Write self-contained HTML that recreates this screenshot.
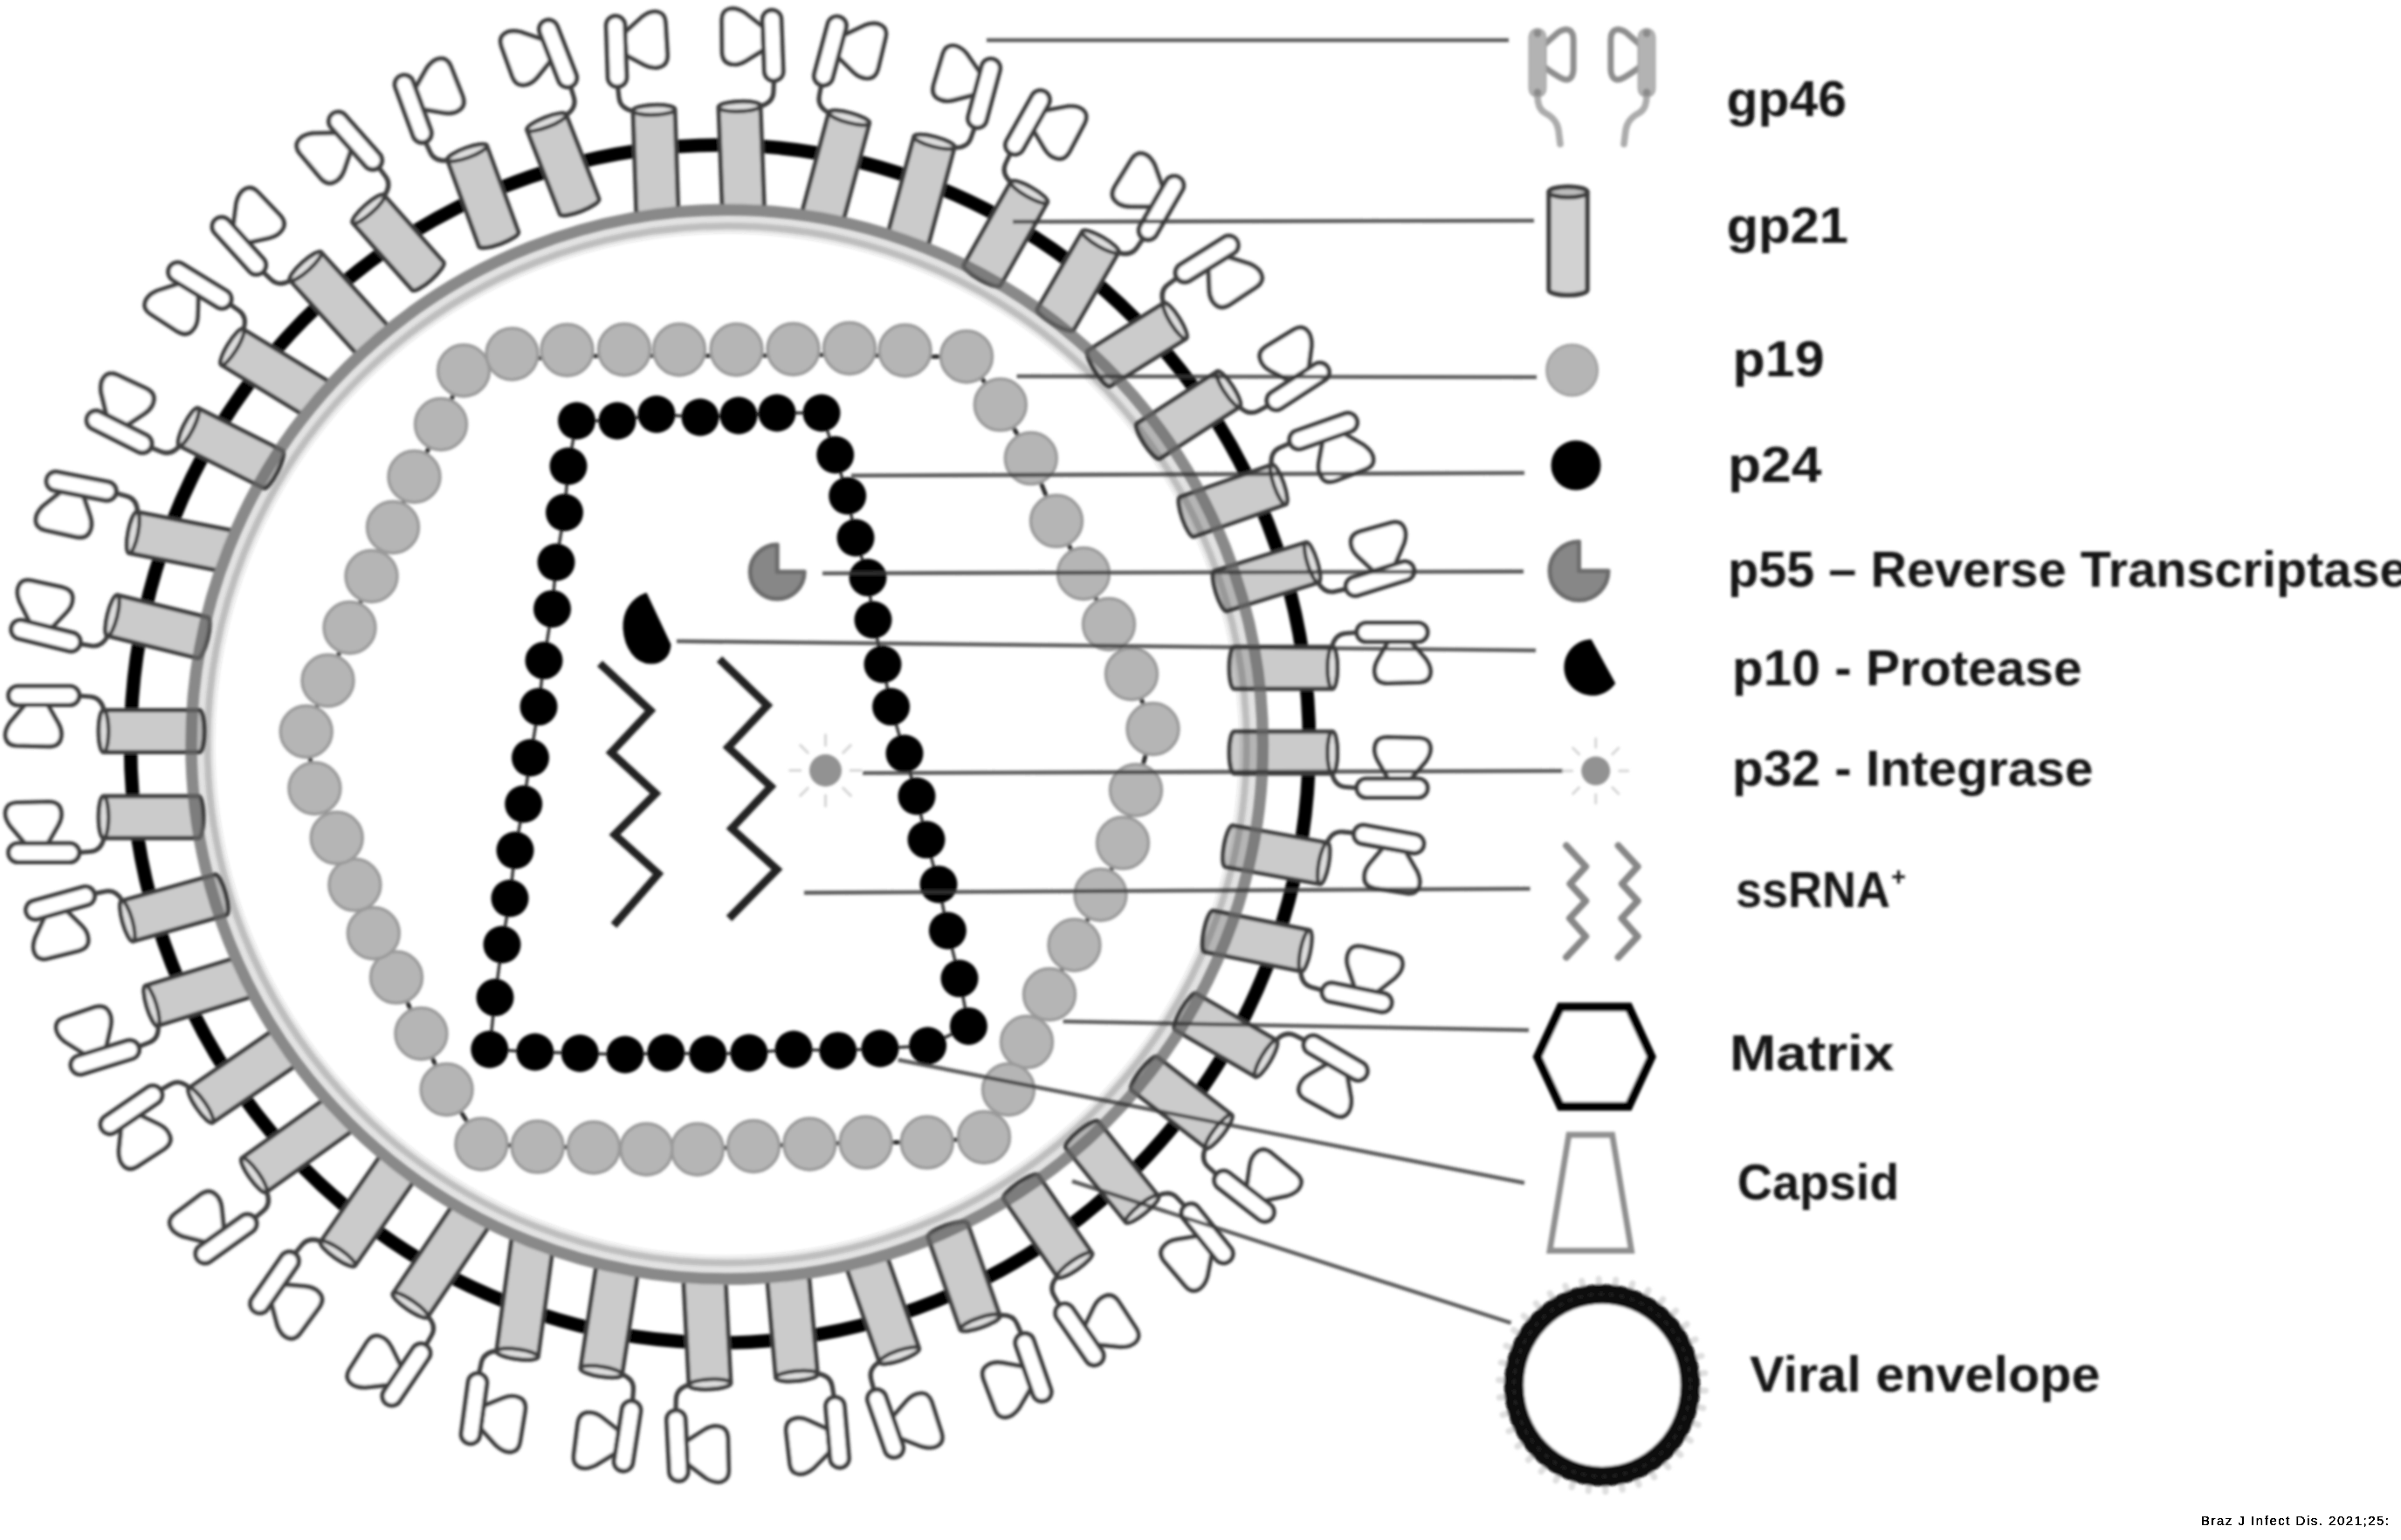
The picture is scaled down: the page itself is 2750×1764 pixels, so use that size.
<!DOCTYPE html>
<html><head><meta charset="utf-8"><title>HTLV-1 structure</title>
<style>
html,body{margin:0;padding:0;background:#fff;}
body{width:2750px;height:1764px;overflow:hidden;position:relative;font-family:"Liberation Sans",sans-serif;}
</style></head><body>
<svg width="2750" height="1764" viewBox="0 0 2750 1764" style="position:absolute;left:0;top:0">
<defs><filter id="bl" x="-2%" y="-2%" width="104%" height="104%"><feGaussianBlur stdDeviation="1.6"/></filter><filter id="crisp" x="-2%" y="-20%" width="104%" height="140%"><feComponentTransfer><feFuncA type="linear" slope="3.2" intercept="-0.3"/></feComponentTransfer></filter></defs>
<rect width="100%" height="100%" fill="#fff"/>
<g filter="url(#bl)">
<ellipse cx="824.5" cy="852" rx="675" ry="686" fill="none" stroke="#000" stroke-width="15.5"/>
<clipPath id="outside"><path clip-rule="evenodd" d="M0,0 H2750 V1764 H0 Z M212.70000000000005,852.7 a620.0,618.6999999999999 0 1,0 1240.0,0 a620.0,618.6999999999999 0 1,0 -1240.0,0 Z"/></clipPath>
<g clip-path="url(#outside)"><g transform="matrix(0.9995,-0.0328,0.0328,0.9995,749,126)"><path d="M-24.0,0 L-24.0,126.0 A24.0 5.6 0 0 0 24.0,126.0 L24.0,0 A24.0 5.6 0 0 0 -24.0,0 Z" fill="#cbcbcb" stroke="#3c3c3c" stroke-width="5" stroke-linejoin="round"/><ellipse cx="0" cy="0" rx="24.0" ry="5.6" fill="#dedede" stroke="#3c3c3c" stroke-width="4.5"/></g><g transform="matrix(0.9993,-0.0370,0.0370,0.9993,847,122)"><path d="M-24.0,0 L-24.0,125.1 A24.0 5.6 0 0 0 24.0,125.1 L24.0,0 A24.0 5.6 0 0 0 -24.0,0 Z" fill="#cbcbcb" stroke="#3c3c3c" stroke-width="5" stroke-linejoin="round"/><ellipse cx="0" cy="0" rx="24.0" ry="5.6" fill="#dedede" stroke="#3c3c3c" stroke-width="4.5"/></g><g transform="matrix(0.9658,0.2591,-0.2591,0.9658,972.5,135)"><path d="M-24.0,0 L-24.0,125.5 A24.0 5.6 0 0 0 24.0,125.5 L24.0,0 A24.0 5.6 0 0 0 -24.0,0 Z" fill="#cbcbcb" stroke="#3c3c3c" stroke-width="5" stroke-linejoin="round"/><ellipse cx="0" cy="0" rx="24.0" ry="5.6" fill="#dedede" stroke="#3c3c3c" stroke-width="4.5"/></g><g transform="matrix(0.9658,0.2591,-0.2591,0.9658,1070,162.5)"><path d="M-24.0,0 L-24.0,124.0 A24.0 5.6 0 0 0 24.0,124.0 L24.0,0 A24.0 5.6 0 0 0 -24.0,0 Z" fill="#cbcbcb" stroke="#3c3c3c" stroke-width="5" stroke-linejoin="round"/><ellipse cx="0" cy="0" rx="24.0" ry="5.6" fill="#dedede" stroke="#3c3c3c" stroke-width="4.5"/></g><g transform="matrix(-0.9442,0.3293,-0.3293,-0.9442,1030,1552.5)"><path d="M-24.0,0 L-24.0,121.2 A24.0 5.6 0 0 0 24.0,121.2 L24.0,0 A24.0 5.6 0 0 0 -24.0,0 Z" fill="#cbcbcb" stroke="#3c3c3c" stroke-width="5" stroke-linejoin="round"/><ellipse cx="0" cy="0" rx="24.0" ry="5.6" fill="#dedede" stroke="#3c3c3c" stroke-width="4.5"/></g><g transform="matrix(-0.9962,0.0868,-0.0868,-0.9962,912.5,1576)"><path d="M-24.0,0 L-24.0,121.7 A24.0 5.6 0 0 0 24.0,121.7 L24.0,0 A24.0 5.6 0 0 0 -24.0,0 Z" fill="#cbcbcb" stroke="#3c3c3c" stroke-width="5" stroke-linejoin="round"/><ellipse cx="0" cy="0" rx="24.0" ry="5.6" fill="#dedede" stroke="#3c3c3c" stroke-width="4.5"/></g><g transform="matrix(-0.9987,0.0509,-0.0509,-0.9987,813,1585.5)"><path d="M-24.0,0 L-24.0,127.5 A24.0 5.6 0 0 0 24.0,127.5 L24.0,0 A24.0 5.6 0 0 0 -24.0,0 Z" fill="#cbcbcb" stroke="#3c3c3c" stroke-width="5" stroke-linejoin="round"/><ellipse cx="0" cy="0" rx="24.0" ry="5.6" fill="#dedede" stroke="#3c3c3c" stroke-width="4.5"/></g><g transform="matrix(-0.9884,-0.1520,0.1520,-0.9884,688.7,1571)"><path d="M-24.0,0 L-24.0,126.7 A24.0 5.6 0 0 0 24.0,126.7 L24.0,0 A24.0 5.6 0 0 0 -24.0,0 Z" fill="#cbcbcb" stroke="#3c3c3c" stroke-width="5" stroke-linejoin="round"/><ellipse cx="0" cy="0" rx="24.0" ry="5.6" fill="#dedede" stroke="#3c3c3c" stroke-width="4.5"/></g><g transform="matrix(-0.9910,-0.1339,0.1339,-0.9910,592.5,1551)"><path d="M-24.0,0 L-24.0,135.3 A24.0 5.6 0 0 0 24.0,135.3 L24.0,0 A24.0 5.6 0 0 0 -24.0,0 Z" fill="#cbcbcb" stroke="#3c3c3c" stroke-width="5" stroke-linejoin="round"/><ellipse cx="0" cy="0" rx="24.0" ry="5.6" fill="#dedede" stroke="#3c3c3c" stroke-width="4.5"/></g><g transform="matrix(-0.8286,-0.5599,0.5599,-0.8286,470,1495)"><path d="M-24.0,0 L-24.0,131.8 A24.0 5.6 0 0 0 24.0,131.8 L24.0,0 A24.0 5.6 0 0 0 -24.0,0 Z" fill="#cbcbcb" stroke="#3c3c3c" stroke-width="5" stroke-linejoin="round"/><ellipse cx="0" cy="0" rx="24.0" ry="5.6" fill="#dedede" stroke="#3c3c3c" stroke-width="4.5"/></g><g transform="matrix(-0.8213,-0.5705,0.5705,-0.8213,387,1436)"><path d="M-24.0,0 L-24.0,127.7 A24.0 5.6 0 0 0 24.0,127.7 L24.0,0 A24.0 5.6 0 0 0 -24.0,0 Z" fill="#cbcbcb" stroke="#3c3c3c" stroke-width="5" stroke-linejoin="round"/><ellipse cx="0" cy="0" rx="24.0" ry="5.6" fill="#dedede" stroke="#3c3c3c" stroke-width="4.5"/></g><g transform="matrix(-0.5808,-0.8140,0.8140,-0.5808,291,1346)"><path d="M-24.0,0 L-24.0,127.0 A24.0 5.6 0 0 0 24.0,127.0 L24.0,0 A24.0 5.6 0 0 0 -24.0,0 Z" fill="#cbcbcb" stroke="#3c3c3c" stroke-width="5" stroke-linejoin="round"/><ellipse cx="0" cy="0" rx="24.0" ry="5.6" fill="#dedede" stroke="#3c3c3c" stroke-width="4.5"/></g><g transform="matrix(-0.5660,-0.8244,0.8244,-0.5660,230,1266)"><path d="M-24.0,0 L-24.0,123.9 A24.0 5.6 0 0 0 24.0,123.9 L24.0,0 A24.0 5.6 0 0 0 -24.0,0 Z" fill="#cbcbcb" stroke="#3c3c3c" stroke-width="5" stroke-linejoin="round"/><ellipse cx="0" cy="0" rx="24.0" ry="5.6" fill="#dedede" stroke="#3c3c3c" stroke-width="4.5"/></g><g transform="matrix(-0.2946,-0.9556,0.9556,-0.2946,173.7,1152)"><path d="M-24.0,0 L-24.0,117.8 A24.0 5.6 0 0 0 24.0,117.8 L24.0,0 A24.0 5.6 0 0 0 -24.0,0 Z" fill="#cbcbcb" stroke="#3c3c3c" stroke-width="5" stroke-linejoin="round"/><ellipse cx="0" cy="0" rx="24.0" ry="5.6" fill="#dedede" stroke="#3c3c3c" stroke-width="4.5"/></g><g transform="matrix(0.1915,-0.9815,0.9815,0.1915,152.5,610)"><path d="M-24.0,0 L-24.0,116.5 A24.0 5.6 0 0 0 24.0,116.5 L24.0,0 A24.0 5.6 0 0 0 -24.0,0 Z" fill="#cbcbcb" stroke="#3c3c3c" stroke-width="5" stroke-linejoin="round"/><ellipse cx="0" cy="0" rx="24.0" ry="5.6" fill="#dedede" stroke="#3c3c3c" stroke-width="4.5"/></g><g transform="matrix(0.5218,-0.8531,0.8531,0.5218,266,397.5)"><path d="M-24.0,0 L-24.0,121.2 A24.0 5.6 0 0 0 24.0,121.2 L24.0,0 A24.0 5.6 0 0 0 -24.0,0 Z" fill="#cbcbcb" stroke="#3c3c3c" stroke-width="5" stroke-linejoin="round"/><ellipse cx="0" cy="0" rx="24.0" ry="5.6" fill="#dedede" stroke="#3c3c3c" stroke-width="4.5"/></g><g transform="matrix(0.7410,-0.6715,0.6715,0.7410,350,305)"><path d="M-24.0,0 L-24.0,123.5 A24.0 5.6 0 0 0 24.0,123.5 L24.0,0 A24.0 5.6 0 0 0 -24.0,0 Z" fill="#cbcbcb" stroke="#3c3c3c" stroke-width="5" stroke-linejoin="round"/><ellipse cx="0" cy="0" rx="24.0" ry="5.6" fill="#dedede" stroke="#3c3c3c" stroke-width="4.5"/></g></g>
<g transform="matrix(0.8705,0.4921,-0.4921,0.8705,1178.7,220)"><path d="M-24.0,0 L-24.0,109.5 A24.0 5.6 0 0 0 24.0,109.5 L24.0,0 A24.0 5.6 0 0 0 -24.0,0 Z" fill="#cbcbcb" stroke="#3c3c3c" stroke-width="5" stroke-linejoin="round"/><ellipse cx="0" cy="0" rx="24.0" ry="5.6" fill="#dedede" stroke="#3c3c3c" stroke-width="4.5"/></g><g transform="matrix(0.8653,0.5013,-0.5013,0.8653,1260.4,277)"><path d="M-24.0,0 L-24.0,102.9 A24.0 5.6 0 0 0 24.0,102.9 L24.0,0 A24.0 5.6 0 0 0 -24.0,0 Z" fill="#cbcbcb" stroke="#3c3c3c" stroke-width="5" stroke-linejoin="round"/><ellipse cx="0" cy="0" rx="24.0" ry="5.6" fill="#dedede" stroke="#3c3c3c" stroke-width="4.5"/></g><g transform="matrix(0.5303,0.8478,-0.8478,0.5303,1345.8,367.5)"><path d="M-24.0,0 L-24.0,102.7 A24.0 5.6 0 0 0 24.0,102.7 L24.0,0 A24.0 5.6 0 0 0 -24.0,0 Z" fill="#cbcbcb" stroke="#3c3c3c" stroke-width="5" stroke-linejoin="round"/><ellipse cx="0" cy="0" rx="24.0" ry="5.6" fill="#dedede" stroke="#3c3c3c" stroke-width="4.5"/></g><g transform="matrix(0.5443,0.8389,-0.8389,0.5443,1407,445.7)"><path d="M-24.0,0 L-24.0,109.4 A24.0 5.6 0 0 0 24.0,109.4 L24.0,0 A24.0 5.6 0 0 0 -24.0,0 Z" fill="#cbcbcb" stroke="#3c3c3c" stroke-width="5" stroke-linejoin="round"/><ellipse cx="0" cy="0" rx="24.0" ry="5.6" fill="#dedede" stroke="#3c3c3c" stroke-width="4.5"/></g><g transform="matrix(0.3318,0.9433,-0.9433,0.3318,1464.6,555)"><path d="M-24.0,0 L-24.0,111.4 A24.0 5.6 0 0 0 24.0,111.4 L24.0,0 A24.0 5.6 0 0 0 -24.0,0 Z" fill="#cbcbcb" stroke="#3c3c3c" stroke-width="5" stroke-linejoin="round"/><ellipse cx="0" cy="0" rx="24.0" ry="5.6" fill="#dedede" stroke="#3c3c3c" stroke-width="4.5"/></g><g transform="matrix(0.2976,0.9547,-0.9547,0.2976,1503,644.3)"><path d="M-24.0,0 L-24.0,110.0 A24.0 5.6 0 0 0 24.0,110.0 L24.0,0 A24.0 5.6 0 0 0 -24.0,0 Z" fill="#cbcbcb" stroke="#3c3c3c" stroke-width="5" stroke-linejoin="round"/><ellipse cx="0" cy="0" rx="24.0" ry="5.6" fill="#dedede" stroke="#3c3c3c" stroke-width="4.5"/></g><g transform="matrix(-0.0000,1.0000,-1.0000,-0.0000,1526,765)"><path d="M-24.0,0 L-24.0,112.4 A24.0 5.6 0 0 0 24.0,112.4 L24.0,0 A24.0 5.6 0 0 0 -24.0,0 Z" fill="#cbcbcb" stroke="#3c3c3c" stroke-width="5" stroke-linejoin="round"/><ellipse cx="0" cy="0" rx="24.0" ry="5.6" fill="#dedede" stroke="#3c3c3c" stroke-width="4.5"/></g><g transform="matrix(-0.0000,1.0000,-1.0000,-0.0000,1526,862)"><path d="M-24.0,0 L-24.0,112.4 A24.0 5.6 0 0 0 24.0,112.4 L24.0,0 A24.0 5.6 0 0 0 -24.0,0 Z" fill="#cbcbcb" stroke="#3c3c3c" stroke-width="5" stroke-linejoin="round"/><ellipse cx="0" cy="0" rx="24.0" ry="5.6" fill="#dedede" stroke="#3c3c3c" stroke-width="4.5"/></g><g transform="matrix(-0.1792,0.9838,-0.9838,-0.1792,1516,989)"><path d="M-24.0,0 L-24.0,110.2 A24.0 5.6 0 0 0 24.0,110.2 L24.0,0 A24.0 5.6 0 0 0 -24.0,0 Z" fill="#cbcbcb" stroke="#3c3c3c" stroke-width="5" stroke-linejoin="round"/><ellipse cx="0" cy="0" rx="24.0" ry="5.6" fill="#dedede" stroke="#3c3c3c" stroke-width="4.5"/></g><g transform="matrix(-0.1978,0.9802,-0.9802,-0.1978,1495,1089)"><path d="M-24.0,0 L-24.0,112.7 A24.0 5.6 0 0 0 24.0,112.7 L24.0,0 A24.0 5.6 0 0 0 -24.0,0 Z" fill="#cbcbcb" stroke="#3c3c3c" stroke-width="5" stroke-linejoin="round"/><ellipse cx="0" cy="0" rx="24.0" ry="5.6" fill="#dedede" stroke="#3c3c3c" stroke-width="4.5"/></g><g transform="matrix(-0.5039,0.8638,-0.8638,-0.5039,1450,1212.5)"><path d="M-24.0,0 L-24.0,106.6 A24.0 5.6 0 0 0 24.0,106.6 L24.0,0 A24.0 5.6 0 0 0 -24.0,0 Z" fill="#cbcbcb" stroke="#3c3c3c" stroke-width="5" stroke-linejoin="round"/><ellipse cx="0" cy="0" rx="24.0" ry="5.6" fill="#dedede" stroke="#3c3c3c" stroke-width="4.5"/></g><g transform="matrix(-0.6143,0.7891,-0.7891,-0.6143,1396,1296)"><path d="M-24.0,0 L-24.0,108.2 A24.0 5.6 0 0 0 24.0,108.2 L24.0,0 A24.0 5.6 0 0 0 -24.0,0 Z" fill="#cbcbcb" stroke="#3c3c3c" stroke-width="5" stroke-linejoin="round"/><ellipse cx="0" cy="0" rx="24.0" ry="5.6" fill="#dedede" stroke="#3c3c3c" stroke-width="4.5"/></g><g transform="matrix(-0.7791,0.6269,-0.6269,-0.7791,1308,1385)"><path d="M-24.0,0 L-24.0,109.5 A24.0 5.6 0 0 0 24.0,109.5 L24.0,0 A24.0 5.6 0 0 0 -24.0,0 Z" fill="#cbcbcb" stroke="#3c3c3c" stroke-width="5" stroke-linejoin="round"/><ellipse cx="0" cy="0" rx="24.0" ry="5.6" fill="#dedede" stroke="#3c3c3c" stroke-width="4.5"/></g><g transform="matrix(-0.8227,0.5685,-0.5685,-0.8227,1231,1449)"><path d="M-24.0,0 L-24.0,108.6 A24.0 5.6 0 0 0 24.0,108.6 L24.0,0 A24.0 5.6 0 0 0 -24.0,0 Z" fill="#cbcbcb" stroke="#3c3c3c" stroke-width="5" stroke-linejoin="round"/><ellipse cx="0" cy="0" rx="24.0" ry="5.6" fill="#dedede" stroke="#3c3c3c" stroke-width="4.5"/></g><g transform="matrix(-0.9442,0.3294,-0.3294,-0.9442,1122.5,1515)"><path d="M-24.0,0 L-24.0,112.3 A24.0 5.6 0 0 0 24.0,112.3 L24.0,0 A24.0 5.6 0 0 0 -24.0,0 Z" fill="#cbcbcb" stroke="#3c3c3c" stroke-width="5" stroke-linejoin="round"/><ellipse cx="0" cy="0" rx="24.0" ry="5.6" fill="#dedede" stroke="#3c3c3c" stroke-width="4.5"/></g><g transform="matrix(-0.2711,-0.9625,0.9625,-0.2711,146,1055)"><path d="M-24.0,0 L-24.0,111.0 A24.0 5.6 0 0 0 24.0,111.0 L24.0,0 A24.0 5.6 0 0 0 -24.0,0 Z" fill="#cbcbcb" stroke="#3c3c3c" stroke-width="5" stroke-linejoin="round"/><ellipse cx="0" cy="0" rx="24.0" ry="5.6" fill="#dedede" stroke="#3c3c3c" stroke-width="4.5"/></g><g transform="matrix(-0.0000,-1.0000,1.0000,-0.0000,118.7,936)"><path d="M-24.0,0 L-24.0,108.7 A24.0 5.6 0 0 0 24.0,108.7 L24.0,0 A24.0 5.6 0 0 0 -24.0,0 Z" fill="#cbcbcb" stroke="#3c3c3c" stroke-width="5" stroke-linejoin="round"/><ellipse cx="0" cy="0" rx="24.0" ry="5.6" fill="#dedede" stroke="#3c3c3c" stroke-width="4.5"/></g><g transform="matrix(-0.0000,-1.0000,1.0000,-0.0000,118.7,837.5)"><path d="M-24.0,0 L-24.0,109.7 A24.0 5.6 0 0 0 24.0,109.7 L24.0,0 A24.0 5.6 0 0 0 -24.0,0 Z" fill="#cbcbcb" stroke="#3c3c3c" stroke-width="5" stroke-linejoin="round"/><ellipse cx="0" cy="0" rx="24.0" ry="5.6" fill="#dedede" stroke="#3c3c3c" stroke-width="4.5"/></g><g transform="matrix(0.2396,-0.9709,0.9709,0.2396,128.7,705)"><path d="M-24.0,0 L-24.0,106.7 A24.0 5.6 0 0 0 24.0,106.7 L24.0,0 A24.0 5.6 0 0 0 -24.0,0 Z" fill="#cbcbcb" stroke="#3c3c3c" stroke-width="5" stroke-linejoin="round"/><ellipse cx="0" cy="0" rx="24.0" ry="5.6" fill="#dedede" stroke="#3c3c3c" stroke-width="4.5"/></g><g transform="matrix(0.4491,-0.8935,0.8935,0.4491,216,489)"><path d="M-24.0,0 L-24.0,108.4 A24.0 5.6 0 0 0 24.0,108.4 L24.0,0 A24.0 5.6 0 0 0 -24.0,0 Z" fill="#cbcbcb" stroke="#3c3c3c" stroke-width="5" stroke-linejoin="round"/><ellipse cx="0" cy="0" rx="24.0" ry="5.6" fill="#dedede" stroke="#3c3c3c" stroke-width="4.5"/></g><g transform="matrix(0.7482,-0.6635,0.6635,0.7482,422,239.5)"><path d="M-24.0,0 L-24.0,102.7 A24.0 5.6 0 0 0 24.0,102.7 L24.0,0 A24.0 5.6 0 0 0 -24.0,0 Z" fill="#cbcbcb" stroke="#3c3c3c" stroke-width="5" stroke-linejoin="round"/><ellipse cx="0" cy="0" rx="24.0" ry="5.6" fill="#dedede" stroke="#3c3c3c" stroke-width="4.5"/></g><g transform="matrix(0.9391,-0.3436,0.3436,0.9391,535,175)"><path d="M-24.0,0 L-24.0,105.5 A24.0 5.6 0 0 0 24.0,105.5 L24.0,0 A24.0 5.6 0 0 0 -24.0,0 Z" fill="#cbcbcb" stroke="#3c3c3c" stroke-width="5" stroke-linejoin="round"/><ellipse cx="0" cy="0" rx="24.0" ry="5.6" fill="#dedede" stroke="#3c3c3c" stroke-width="4.5"/></g><g transform="matrix(0.9317,-0.3633,0.3633,0.9317,626,140)"><path d="M-24.0,0 L-24.0,103.7 A24.0 5.6 0 0 0 24.0,103.7 L24.0,0 A24.0 5.6 0 0 0 -24.0,0 Z" fill="#cbcbcb" stroke="#3c3c3c" stroke-width="5" stroke-linejoin="round"/><ellipse cx="0" cy="0" rx="24.0" ry="5.6" fill="#dedede" stroke="#3c3c3c" stroke-width="4.5"/></g>
<ellipse cx="832.7" cy="852.7" rx="613.7" ry="612.4" fill="none" stroke="#646464" stroke-width="13.5" opacity="0.76"/>
<ellipse cx="832.7" cy="852.7" rx="602.8000000000001" ry="601.5" fill="none" stroke="#333" stroke-width="8.3" opacity="0.14"/>
<ellipse cx="832.7" cy="852.7" rx="595.1" ry="593.8" fill="none" stroke="#333" stroke-width="7.6" opacity="0.32"/>
<ellipse cx="832.7" cy="852.7" rx="589.1" ry="587.8" fill="none" stroke="#333" stroke-width="4.6" opacity="0.11"/>
<g transform="matrix(0.9995,-0.0328,0.0328,0.9995,749,126)"><g transform="" fill="#fff" stroke="#3c3c3c" stroke-width="5.2" stroke-linejoin="round" stroke-linecap="round"><path d="M-40.5,-28 L-39.5,-15 Q-38.5,-3 -24,0.5" fill="none"/><path d="M-30,-90 L-10,-107 Q0,-114 8,-112 Q16,-110 16.5,-100 L17.5,-63 Q17.5,-51 8,-49 Q0,-47 -9,-52 L-30,-64 Z"/><rect x="-51.5" y="-109" width="21.5" height="81" rx="10.7" ry="10.7"/></g></g>
<g transform="matrix(0.9993,-0.0370,0.0370,0.9993,847,122)"><g transform="scale(-1,1)" fill="#fff" stroke="#3c3c3c" stroke-width="5.2" stroke-linejoin="round" stroke-linecap="round"><path d="M-40.5,-28 L-39.5,-15 Q-38.5,-3 -24,0.5" fill="none"/><path d="M-30,-90 L-10,-107 Q0,-114 8,-112 Q16,-110 16.5,-100 L17.5,-63 Q17.5,-51 8,-49 Q0,-47 -9,-52 L-30,-64 Z"/><rect x="-51.5" y="-109" width="21.5" height="81" rx="10.7" ry="10.7"/></g></g>
<g transform="matrix(0.9658,0.2591,-0.2591,0.9658,972.5,135)"><g transform="" fill="#fff" stroke="#3c3c3c" stroke-width="5.2" stroke-linejoin="round" stroke-linecap="round"><path d="M-40.5,-28 L-39.5,-15 Q-38.5,-3 -24,0.5" fill="none"/><path d="M-30,-90 L-10,-107 Q0,-114 8,-112 Q16,-110 16.5,-100 L17.5,-63 Q17.5,-51 8,-49 Q0,-47 -9,-52 L-30,-64 Z"/><rect x="-51.5" y="-109" width="21.5" height="81" rx="10.7" ry="10.7"/></g></g>
<g transform="matrix(0.9658,0.2591,-0.2591,0.9658,1070,162.5)"><g transform="scale(-1,1)" fill="#fff" stroke="#3c3c3c" stroke-width="5.2" stroke-linejoin="round" stroke-linecap="round"><path d="M-40.5,-28 L-39.5,-15 Q-38.5,-3 -24,0.5" fill="none"/><path d="M-30,-90 L-10,-107 Q0,-114 8,-112 Q16,-110 16.5,-100 L17.5,-63 Q17.5,-51 8,-49 Q0,-47 -9,-52 L-30,-64 Z"/><rect x="-51.5" y="-109" width="21.5" height="81" rx="10.7" ry="10.7"/></g></g>
<g transform="matrix(0.8705,0.4921,-0.4921,0.8705,1178.7,220)"><g transform="" fill="#fff" stroke="#3c3c3c" stroke-width="5.2" stroke-linejoin="round" stroke-linecap="round"><path d="M-40.5,-28 L-39.5,-15 Q-38.5,-3 -24,0.5" fill="none"/><path d="M-30,-90 L-10,-107 Q0,-114 8,-112 Q16,-110 16.5,-100 L17.5,-63 Q17.5,-51 8,-49 Q0,-47 -9,-52 L-30,-64 Z"/><rect x="-51.5" y="-109" width="21.5" height="81" rx="10.7" ry="10.7"/></g></g>
<g transform="matrix(0.8653,0.5013,-0.5013,0.8653,1260.4,277)"><g transform="scale(-1,1)" fill="#fff" stroke="#3c3c3c" stroke-width="5.2" stroke-linejoin="round" stroke-linecap="round"><path d="M-40.5,-28 L-39.5,-15 Q-38.5,-3 -24,0.5" fill="none"/><path d="M-30,-90 L-10,-107 Q0,-114 8,-112 Q16,-110 16.5,-100 L17.5,-63 Q17.5,-51 8,-49 Q0,-47 -9,-52 L-30,-64 Z"/><rect x="-51.5" y="-109" width="21.5" height="81" rx="10.7" ry="10.7"/></g></g>
<g transform="matrix(0.5303,0.8478,-0.8478,0.5303,1345.8,367.5)"><g transform="" fill="#fff" stroke="#3c3c3c" stroke-width="5.2" stroke-linejoin="round" stroke-linecap="round"><path d="M-40.5,-28 L-39.5,-15 Q-38.5,-3 -24,0.5" fill="none"/><path d="M-30,-90 L-10,-107 Q0,-114 8,-112 Q16,-110 16.5,-100 L17.5,-63 Q17.5,-51 8,-49 Q0,-47 -9,-52 L-30,-64 Z"/><rect x="-51.5" y="-109" width="21.5" height="81" rx="10.7" ry="10.7"/></g></g>
<g transform="matrix(0.5443,0.8389,-0.8389,0.5443,1407,445.7)"><g transform="scale(-1,1)" fill="#fff" stroke="#3c3c3c" stroke-width="5.2" stroke-linejoin="round" stroke-linecap="round"><path d="M-40.5,-28 L-39.5,-15 Q-38.5,-3 -24,0.5" fill="none"/><path d="M-30,-90 L-10,-107 Q0,-114 8,-112 Q16,-110 16.5,-100 L17.5,-63 Q17.5,-51 8,-49 Q0,-47 -9,-52 L-30,-64 Z"/><rect x="-51.5" y="-109" width="21.5" height="81" rx="10.7" ry="10.7"/></g></g>
<g transform="matrix(0.3318,0.9433,-0.9433,0.3318,1464.6,555)"><g transform="" fill="#fff" stroke="#3c3c3c" stroke-width="5.2" stroke-linejoin="round" stroke-linecap="round"><path d="M-40.5,-28 L-39.5,-15 Q-38.5,-3 -24,0.5" fill="none"/><path d="M-30,-90 L-10,-107 Q0,-114 8,-112 Q16,-110 16.5,-100 L17.5,-63 Q17.5,-51 8,-49 Q0,-47 -9,-52 L-30,-64 Z"/><rect x="-51.5" y="-109" width="21.5" height="81" rx="10.7" ry="10.7"/></g></g>
<g transform="matrix(0.2976,0.9547,-0.9547,0.2976,1503,644.3)"><g transform="scale(-1,1)" fill="#fff" stroke="#3c3c3c" stroke-width="5.2" stroke-linejoin="round" stroke-linecap="round"><path d="M-40.5,-28 L-39.5,-15 Q-38.5,-3 -24,0.5" fill="none"/><path d="M-30,-90 L-10,-107 Q0,-114 8,-112 Q16,-110 16.5,-100 L17.5,-63 Q17.5,-51 8,-49 Q0,-47 -9,-52 L-30,-64 Z"/><rect x="-51.5" y="-109" width="21.5" height="81" rx="10.7" ry="10.7"/></g></g>
<g transform="matrix(-0.0000,1.0000,-1.0000,-0.0000,1526,765)"><g transform="" fill="#fff" stroke="#3c3c3c" stroke-width="5.2" stroke-linejoin="round" stroke-linecap="round"><path d="M-40.5,-28 L-39.5,-15 Q-38.5,-3 -24,0.5" fill="none"/><path d="M-30,-90 L-10,-107 Q0,-114 8,-112 Q16,-110 16.5,-100 L17.5,-63 Q17.5,-51 8,-49 Q0,-47 -9,-52 L-30,-64 Z"/><rect x="-51.5" y="-109" width="21.5" height="81" rx="10.7" ry="10.7"/></g></g>
<g transform="matrix(-0.0000,1.0000,-1.0000,-0.0000,1526,862)"><g transform="scale(-1,1)" fill="#fff" stroke="#3c3c3c" stroke-width="5.2" stroke-linejoin="round" stroke-linecap="round"><path d="M-40.5,-28 L-39.5,-15 Q-38.5,-3 -24,0.5" fill="none"/><path d="M-30,-90 L-10,-107 Q0,-114 8,-112 Q16,-110 16.5,-100 L17.5,-63 Q17.5,-51 8,-49 Q0,-47 -9,-52 L-30,-64 Z"/><rect x="-51.5" y="-109" width="21.5" height="81" rx="10.7" ry="10.7"/></g></g>
<g transform="matrix(-0.1792,0.9838,-0.9838,-0.1792,1516,989)"><g transform="" fill="#fff" stroke="#3c3c3c" stroke-width="5.2" stroke-linejoin="round" stroke-linecap="round"><path d="M-40.5,-28 L-39.5,-15 Q-38.5,-3 -24,0.5" fill="none"/><path d="M-30,-90 L-10,-107 Q0,-114 8,-112 Q16,-110 16.5,-100 L17.5,-63 Q17.5,-51 8,-49 Q0,-47 -9,-52 L-30,-64 Z"/><rect x="-51.5" y="-109" width="21.5" height="81" rx="10.7" ry="10.7"/></g></g>
<g transform="matrix(-0.1978,0.9802,-0.9802,-0.1978,1495,1089)"><g transform="scale(-1,1)" fill="#fff" stroke="#3c3c3c" stroke-width="5.2" stroke-linejoin="round" stroke-linecap="round"><path d="M-40.5,-28 L-39.5,-15 Q-38.5,-3 -24,0.5" fill="none"/><path d="M-30,-90 L-10,-107 Q0,-114 8,-112 Q16,-110 16.5,-100 L17.5,-63 Q17.5,-51 8,-49 Q0,-47 -9,-52 L-30,-64 Z"/><rect x="-51.5" y="-109" width="21.5" height="81" rx="10.7" ry="10.7"/></g></g>
<g transform="matrix(-0.5039,0.8638,-0.8638,-0.5039,1450,1212.5)"><g transform="" fill="#fff" stroke="#3c3c3c" stroke-width="5.2" stroke-linejoin="round" stroke-linecap="round"><path d="M-40.5,-28 L-39.5,-15 Q-38.5,-3 -24,0.5" fill="none"/><path d="M-30,-90 L-10,-107 Q0,-114 8,-112 Q16,-110 16.5,-100 L17.5,-63 Q17.5,-51 8,-49 Q0,-47 -9,-52 L-30,-64 Z"/><rect x="-51.5" y="-109" width="21.5" height="81" rx="10.7" ry="10.7"/></g></g>
<g transform="matrix(-0.6143,0.7891,-0.7891,-0.6143,1396,1296)"><g transform="scale(-1,1)" fill="#fff" stroke="#3c3c3c" stroke-width="5.2" stroke-linejoin="round" stroke-linecap="round"><path d="M-40.5,-28 L-39.5,-15 Q-38.5,-3 -24,0.5" fill="none"/><path d="M-30,-90 L-10,-107 Q0,-114 8,-112 Q16,-110 16.5,-100 L17.5,-63 Q17.5,-51 8,-49 Q0,-47 -9,-52 L-30,-64 Z"/><rect x="-51.5" y="-109" width="21.5" height="81" rx="10.7" ry="10.7"/></g></g>
<g transform="matrix(-0.7791,0.6269,-0.6269,-0.7791,1308,1385)"><g transform="" fill="#fff" stroke="#3c3c3c" stroke-width="5.2" stroke-linejoin="round" stroke-linecap="round"><path d="M-40.5,-28 L-39.5,-15 Q-38.5,-3 -24,0.5" fill="none"/><path d="M-30,-90 L-10,-107 Q0,-114 8,-112 Q16,-110 16.5,-100 L17.5,-63 Q17.5,-51 8,-49 Q0,-47 -9,-52 L-30,-64 Z"/><rect x="-51.5" y="-109" width="21.5" height="81" rx="10.7" ry="10.7"/></g></g>
<g transform="matrix(-0.8227,0.5685,-0.5685,-0.8227,1231,1449)"><g transform="scale(-1,1)" fill="#fff" stroke="#3c3c3c" stroke-width="5.2" stroke-linejoin="round" stroke-linecap="round"><path d="M-40.5,-28 L-39.5,-15 Q-38.5,-3 -24,0.5" fill="none"/><path d="M-30,-90 L-10,-107 Q0,-114 8,-112 Q16,-110 16.5,-100 L17.5,-63 Q17.5,-51 8,-49 Q0,-47 -9,-52 L-30,-64 Z"/><rect x="-51.5" y="-109" width="21.5" height="81" rx="10.7" ry="10.7"/></g></g>
<g transform="matrix(-0.9442,0.3294,-0.3294,-0.9442,1122.5,1515)"><g transform="" fill="#fff" stroke="#3c3c3c" stroke-width="5.2" stroke-linejoin="round" stroke-linecap="round"><path d="M-40.5,-28 L-39.5,-15 Q-38.5,-3 -24,0.5" fill="none"/><path d="M-30,-90 L-10,-107 Q0,-114 8,-112 Q16,-110 16.5,-100 L17.5,-63 Q17.5,-51 8,-49 Q0,-47 -9,-52 L-30,-64 Z"/><rect x="-51.5" y="-109" width="21.5" height="81" rx="10.7" ry="10.7"/></g></g>
<g transform="matrix(-0.9442,0.3293,-0.3293,-0.9442,1030,1552.5)"><g transform="scale(-1,1)" fill="#fff" stroke="#3c3c3c" stroke-width="5.2" stroke-linejoin="round" stroke-linecap="round"><path d="M-40.5,-28 L-39.5,-15 Q-38.5,-3 -24,0.5" fill="none"/><path d="M-30,-90 L-10,-107 Q0,-114 8,-112 Q16,-110 16.5,-100 L17.5,-63 Q17.5,-51 8,-49 Q0,-47 -9,-52 L-30,-64 Z"/><rect x="-51.5" y="-109" width="21.5" height="81" rx="10.7" ry="10.7"/></g></g>
<g transform="matrix(-0.9962,0.0868,-0.0868,-0.9962,912.5,1576)"><g transform="" fill="#fff" stroke="#3c3c3c" stroke-width="5.2" stroke-linejoin="round" stroke-linecap="round"><path d="M-40.5,-28 L-39.5,-15 Q-38.5,-3 -24,0.5" fill="none"/><path d="M-30,-90 L-10,-107 Q0,-114 8,-112 Q16,-110 16.5,-100 L17.5,-63 Q17.5,-51 8,-49 Q0,-47 -9,-52 L-30,-64 Z"/><rect x="-51.5" y="-109" width="21.5" height="81" rx="10.7" ry="10.7"/></g></g>
<g transform="matrix(-0.9987,0.0509,-0.0509,-0.9987,813,1585.5)"><g transform="scale(-1,1)" fill="#fff" stroke="#3c3c3c" stroke-width="5.2" stroke-linejoin="round" stroke-linecap="round"><path d="M-40.5,-28 L-39.5,-15 Q-38.5,-3 -24,0.5" fill="none"/><path d="M-30,-90 L-10,-107 Q0,-114 8,-112 Q16,-110 16.5,-100 L17.5,-63 Q17.5,-51 8,-49 Q0,-47 -9,-52 L-30,-64 Z"/><rect x="-51.5" y="-109" width="21.5" height="81" rx="10.7" ry="10.7"/></g></g>
<g transform="matrix(-0.9884,-0.1520,0.1520,-0.9884,688.7,1571)"><g transform="" fill="#fff" stroke="#3c3c3c" stroke-width="5.2" stroke-linejoin="round" stroke-linecap="round"><path d="M-40.5,-28 L-39.5,-15 Q-38.5,-3 -24,0.5" fill="none"/><path d="M-30,-90 L-10,-107 Q0,-114 8,-112 Q16,-110 16.5,-100 L17.5,-63 Q17.5,-51 8,-49 Q0,-47 -9,-52 L-30,-64 Z"/><rect x="-51.5" y="-109" width="21.5" height="81" rx="10.7" ry="10.7"/></g></g>
<g transform="matrix(-0.9910,-0.1339,0.1339,-0.9910,592.5,1551)"><g transform="scale(-1,1)" fill="#fff" stroke="#3c3c3c" stroke-width="5.2" stroke-linejoin="round" stroke-linecap="round"><path d="M-40.5,-28 L-39.5,-15 Q-38.5,-3 -24,0.5" fill="none"/><path d="M-30,-90 L-10,-107 Q0,-114 8,-112 Q16,-110 16.5,-100 L17.5,-63 Q17.5,-51 8,-49 Q0,-47 -9,-52 L-30,-64 Z"/><rect x="-51.5" y="-109" width="21.5" height="81" rx="10.7" ry="10.7"/></g></g>
<g transform="matrix(-0.8286,-0.5599,0.5599,-0.8286,470,1495)"><g transform="" fill="#fff" stroke="#3c3c3c" stroke-width="5.2" stroke-linejoin="round" stroke-linecap="round"><path d="M-40.5,-28 L-39.5,-15 Q-38.5,-3 -24,0.5" fill="none"/><path d="M-30,-90 L-10,-107 Q0,-114 8,-112 Q16,-110 16.5,-100 L17.5,-63 Q17.5,-51 8,-49 Q0,-47 -9,-52 L-30,-64 Z"/><rect x="-51.5" y="-109" width="21.5" height="81" rx="10.7" ry="10.7"/></g></g>
<g transform="matrix(-0.8213,-0.5705,0.5705,-0.8213,387,1436)"><g transform="scale(-1,1)" fill="#fff" stroke="#3c3c3c" stroke-width="5.2" stroke-linejoin="round" stroke-linecap="round"><path d="M-40.5,-28 L-39.5,-15 Q-38.5,-3 -24,0.5" fill="none"/><path d="M-30,-90 L-10,-107 Q0,-114 8,-112 Q16,-110 16.5,-100 L17.5,-63 Q17.5,-51 8,-49 Q0,-47 -9,-52 L-30,-64 Z"/><rect x="-51.5" y="-109" width="21.5" height="81" rx="10.7" ry="10.7"/></g></g>
<g transform="matrix(-0.5808,-0.8140,0.8140,-0.5808,291,1346)"><g transform="" fill="#fff" stroke="#3c3c3c" stroke-width="5.2" stroke-linejoin="round" stroke-linecap="round"><path d="M-40.5,-28 L-39.5,-15 Q-38.5,-3 -24,0.5" fill="none"/><path d="M-30,-90 L-10,-107 Q0,-114 8,-112 Q16,-110 16.5,-100 L17.5,-63 Q17.5,-51 8,-49 Q0,-47 -9,-52 L-30,-64 Z"/><rect x="-51.5" y="-109" width="21.5" height="81" rx="10.7" ry="10.7"/></g></g>
<g transform="matrix(-0.5660,-0.8244,0.8244,-0.5660,230,1266)"><g transform="scale(-1,1)" fill="#fff" stroke="#3c3c3c" stroke-width="5.2" stroke-linejoin="round" stroke-linecap="round"><path d="M-40.5,-28 L-39.5,-15 Q-38.5,-3 -24,0.5" fill="none"/><path d="M-30,-90 L-10,-107 Q0,-114 8,-112 Q16,-110 16.5,-100 L17.5,-63 Q17.5,-51 8,-49 Q0,-47 -9,-52 L-30,-64 Z"/><rect x="-51.5" y="-109" width="21.5" height="81" rx="10.7" ry="10.7"/></g></g>
<g transform="matrix(-0.2946,-0.9556,0.9556,-0.2946,173.7,1152)"><g transform="" fill="#fff" stroke="#3c3c3c" stroke-width="5.2" stroke-linejoin="round" stroke-linecap="round"><path d="M-40.5,-28 L-39.5,-15 Q-38.5,-3 -24,0.5" fill="none"/><path d="M-30,-90 L-10,-107 Q0,-114 8,-112 Q16,-110 16.5,-100 L17.5,-63 Q17.5,-51 8,-49 Q0,-47 -9,-52 L-30,-64 Z"/><rect x="-51.5" y="-109" width="21.5" height="81" rx="10.7" ry="10.7"/></g></g>
<g transform="matrix(-0.2711,-0.9625,0.9625,-0.2711,146,1055)"><g transform="scale(-1,1)" fill="#fff" stroke="#3c3c3c" stroke-width="5.2" stroke-linejoin="round" stroke-linecap="round"><path d="M-40.5,-28 L-39.5,-15 Q-38.5,-3 -24,0.5" fill="none"/><path d="M-30,-90 L-10,-107 Q0,-114 8,-112 Q16,-110 16.5,-100 L17.5,-63 Q17.5,-51 8,-49 Q0,-47 -9,-52 L-30,-64 Z"/><rect x="-51.5" y="-109" width="21.5" height="81" rx="10.7" ry="10.7"/></g></g>
<g transform="matrix(-0.0000,-1.0000,1.0000,-0.0000,118.7,936)"><g transform="" fill="#fff" stroke="#3c3c3c" stroke-width="5.2" stroke-linejoin="round" stroke-linecap="round"><path d="M-40.5,-28 L-39.5,-15 Q-38.5,-3 -24,0.5" fill="none"/><path d="M-30,-90 L-10,-107 Q0,-114 8,-112 Q16,-110 16.5,-100 L17.5,-63 Q17.5,-51 8,-49 Q0,-47 -9,-52 L-30,-64 Z"/><rect x="-51.5" y="-109" width="21.5" height="81" rx="10.7" ry="10.7"/></g></g>
<g transform="matrix(-0.0000,-1.0000,1.0000,-0.0000,118.7,837.5)"><g transform="scale(-1,1)" fill="#fff" stroke="#3c3c3c" stroke-width="5.2" stroke-linejoin="round" stroke-linecap="round"><path d="M-40.5,-28 L-39.5,-15 Q-38.5,-3 -24,0.5" fill="none"/><path d="M-30,-90 L-10,-107 Q0,-114 8,-112 Q16,-110 16.5,-100 L17.5,-63 Q17.5,-51 8,-49 Q0,-47 -9,-52 L-30,-64 Z"/><rect x="-51.5" y="-109" width="21.5" height="81" rx="10.7" ry="10.7"/></g></g>
<g transform="matrix(0.2396,-0.9709,0.9709,0.2396,128.7,705)"><g transform="" fill="#fff" stroke="#3c3c3c" stroke-width="5.2" stroke-linejoin="round" stroke-linecap="round"><path d="M-40.5,-28 L-39.5,-15 Q-38.5,-3 -24,0.5" fill="none"/><path d="M-30,-90 L-10,-107 Q0,-114 8,-112 Q16,-110 16.5,-100 L17.5,-63 Q17.5,-51 8,-49 Q0,-47 -9,-52 L-30,-64 Z"/><rect x="-51.5" y="-109" width="21.5" height="81" rx="10.7" ry="10.7"/></g></g>
<g transform="matrix(0.1915,-0.9815,0.9815,0.1915,152.5,610)"><g transform="scale(-1,1)" fill="#fff" stroke="#3c3c3c" stroke-width="5.2" stroke-linejoin="round" stroke-linecap="round"><path d="M-40.5,-28 L-39.5,-15 Q-38.5,-3 -24,0.5" fill="none"/><path d="M-30,-90 L-10,-107 Q0,-114 8,-112 Q16,-110 16.5,-100 L17.5,-63 Q17.5,-51 8,-49 Q0,-47 -9,-52 L-30,-64 Z"/><rect x="-51.5" y="-109" width="21.5" height="81" rx="10.7" ry="10.7"/></g></g>
<g transform="matrix(0.4491,-0.8935,0.8935,0.4491,216,489)"><g transform="" fill="#fff" stroke="#3c3c3c" stroke-width="5.2" stroke-linejoin="round" stroke-linecap="round"><path d="M-40.5,-28 L-39.5,-15 Q-38.5,-3 -24,0.5" fill="none"/><path d="M-30,-90 L-10,-107 Q0,-114 8,-112 Q16,-110 16.5,-100 L17.5,-63 Q17.5,-51 8,-49 Q0,-47 -9,-52 L-30,-64 Z"/><rect x="-51.5" y="-109" width="21.5" height="81" rx="10.7" ry="10.7"/></g></g>
<g transform="matrix(0.5218,-0.8531,0.8531,0.5218,266,397.5)"><g transform="scale(-1,1)" fill="#fff" stroke="#3c3c3c" stroke-width="5.2" stroke-linejoin="round" stroke-linecap="round"><path d="M-40.5,-28 L-39.5,-15 Q-38.5,-3 -24,0.5" fill="none"/><path d="M-30,-90 L-10,-107 Q0,-114 8,-112 Q16,-110 16.5,-100 L17.5,-63 Q17.5,-51 8,-49 Q0,-47 -9,-52 L-30,-64 Z"/><rect x="-51.5" y="-109" width="21.5" height="81" rx="10.7" ry="10.7"/></g></g>
<g transform="matrix(0.7410,-0.6715,0.6715,0.7410,350,305)"><g transform="" fill="#fff" stroke="#3c3c3c" stroke-width="5.2" stroke-linejoin="round" stroke-linecap="round"><path d="M-40.5,-28 L-39.5,-15 Q-38.5,-3 -24,0.5" fill="none"/><path d="M-30,-90 L-10,-107 Q0,-114 8,-112 Q16,-110 16.5,-100 L17.5,-63 Q17.5,-51 8,-49 Q0,-47 -9,-52 L-30,-64 Z"/><rect x="-51.5" y="-109" width="21.5" height="81" rx="10.7" ry="10.7"/></g></g>
<g transform="matrix(0.7482,-0.6635,0.6635,0.7482,422,239.5)"><g transform="scale(-1,1)" fill="#fff" stroke="#3c3c3c" stroke-width="5.2" stroke-linejoin="round" stroke-linecap="round"><path d="M-40.5,-28 L-39.5,-15 Q-38.5,-3 -24,0.5" fill="none"/><path d="M-30,-90 L-10,-107 Q0,-114 8,-112 Q16,-110 16.5,-100 L17.5,-63 Q17.5,-51 8,-49 Q0,-47 -9,-52 L-30,-64 Z"/><rect x="-51.5" y="-109" width="21.5" height="81" rx="10.7" ry="10.7"/></g></g>
<g transform="matrix(0.9391,-0.3436,0.3436,0.9391,535,175)"><g transform="" fill="#fff" stroke="#3c3c3c" stroke-width="5.2" stroke-linejoin="round" stroke-linecap="round"><path d="M-40.5,-28 L-39.5,-15 Q-38.5,-3 -24,0.5" fill="none"/><path d="M-30,-90 L-10,-107 Q0,-114 8,-112 Q16,-110 16.5,-100 L17.5,-63 Q17.5,-51 8,-49 Q0,-47 -9,-52 L-30,-64 Z"/><rect x="-51.5" y="-109" width="21.5" height="81" rx="10.7" ry="10.7"/></g></g>
<g transform="matrix(0.9317,-0.3633,0.3633,0.9317,626,140)"><g transform="scale(-1,1)" fill="#fff" stroke="#3c3c3c" stroke-width="5.2" stroke-linejoin="round" stroke-linecap="round"><path d="M-40.5,-28 L-39.5,-15 Q-38.5,-3 -24,0.5" fill="none"/><path d="M-30,-90 L-10,-107 Q0,-114 8,-112 Q16,-110 16.5,-100 L17.5,-63 Q17.5,-51 8,-49 Q0,-47 -9,-52 L-30,-64 Z"/><rect x="-51.5" y="-109" width="21.5" height="81" rx="10.7" ry="10.7"/></g></g>
<polygon points="531,424.5 586.5,412.5 649.5,408 715,407.5 778,407.5 843.5,407.5 908.5,407 973,406 1036.6,408.5 1107,408.4 1145.8,463.6 1180.8,525 1210,596.8 1241,657 1270,715 1296,772 1320.5,835 1301,905 1286,965.6 1260.5,1025 1230.5,1082.5 1202,1139 1176,1193.6 1155,1248 1127,1302.7 1061.7,1308.6 991.6,1308.6 927.3,1310.5 863,1313 798.8,1316.4 740.4,1316.4 680,1314.4 615.7,1313.6 551.4,1310.5 511.6,1248 482.4,1184 454,1119.6 427.8,1069 406.4,1013.6 385.7,959.8 360.4,903 350.7,838 375.5,779.5 400.5,719 425.5,660 450,604 474.5,546 505,486" fill="none" stroke="#2a2a2a" stroke-width="5" stroke-linejoin="round"/>
<circle cx="531" cy="424.5" r="29.5" fill="#b5b5b5" stroke="#9a9a9a" stroke-width="3.5"/>
<circle cx="586.5" cy="405.5" r="29.5" fill="#b5b5b5" stroke="#9a9a9a" stroke-width="3.5"/>
<circle cx="649.5" cy="401" r="29.5" fill="#b5b5b5" stroke="#9a9a9a" stroke-width="3.5"/>
<circle cx="715" cy="400.5" r="29.5" fill="#b5b5b5" stroke="#9a9a9a" stroke-width="3.5"/>
<circle cx="778" cy="400.5" r="29.5" fill="#b5b5b5" stroke="#9a9a9a" stroke-width="3.5"/>
<circle cx="843.5" cy="400.5" r="29.5" fill="#b5b5b5" stroke="#9a9a9a" stroke-width="3.5"/>
<circle cx="908.5" cy="400" r="29.5" fill="#b5b5b5" stroke="#9a9a9a" stroke-width="3.5"/>
<circle cx="973" cy="399" r="29.5" fill="#b5b5b5" stroke="#9a9a9a" stroke-width="3.5"/>
<circle cx="1036.6" cy="401.5" r="29.5" fill="#b5b5b5" stroke="#9a9a9a" stroke-width="3.5"/>
<circle cx="1107" cy="408.4" r="29.5" fill="#b5b5b5" stroke="#9a9a9a" stroke-width="3.5"/>
<circle cx="1145.8" cy="463.6" r="29.5" fill="#b5b5b5" stroke="#9a9a9a" stroke-width="3.5"/>
<circle cx="1180.8" cy="525" r="29.5" fill="#b5b5b5" stroke="#9a9a9a" stroke-width="3.5"/>
<circle cx="1210" cy="596.8" r="29.5" fill="#b5b5b5" stroke="#9a9a9a" stroke-width="3.5"/>
<circle cx="1241" cy="657" r="29.5" fill="#b5b5b5" stroke="#9a9a9a" stroke-width="3.5"/>
<circle cx="1270" cy="715" r="29.5" fill="#b5b5b5" stroke="#9a9a9a" stroke-width="3.5"/>
<circle cx="1296" cy="772" r="29.5" fill="#b5b5b5" stroke="#9a9a9a" stroke-width="3.5"/>
<circle cx="1320.5" cy="835" r="29.5" fill="#b5b5b5" stroke="#9a9a9a" stroke-width="3.5"/>
<circle cx="1301" cy="905" r="29.5" fill="#b5b5b5" stroke="#9a9a9a" stroke-width="3.5"/>
<circle cx="1286" cy="965.6" r="29.5" fill="#b5b5b5" stroke="#9a9a9a" stroke-width="3.5"/>
<circle cx="1260.5" cy="1025" r="29.5" fill="#b5b5b5" stroke="#9a9a9a" stroke-width="3.5"/>
<circle cx="1230.5" cy="1082.5" r="29.5" fill="#b5b5b5" stroke="#9a9a9a" stroke-width="3.5"/>
<circle cx="1202" cy="1139" r="29.5" fill="#b5b5b5" stroke="#9a9a9a" stroke-width="3.5"/>
<circle cx="1176" cy="1193.6" r="29.5" fill="#b5b5b5" stroke="#9a9a9a" stroke-width="3.5"/>
<circle cx="1155" cy="1248" r="29.5" fill="#b5b5b5" stroke="#9a9a9a" stroke-width="3.5"/>
<circle cx="1127" cy="1302.7" r="29.5" fill="#b5b5b5" stroke="#9a9a9a" stroke-width="3.5"/>
<circle cx="1061.7" cy="1308.6" r="29.5" fill="#b5b5b5" stroke="#9a9a9a" stroke-width="3.5"/>
<circle cx="991.6" cy="1308.6" r="29.5" fill="#b5b5b5" stroke="#9a9a9a" stroke-width="3.5"/>
<circle cx="927.3" cy="1310.5" r="29.5" fill="#b5b5b5" stroke="#9a9a9a" stroke-width="3.5"/>
<circle cx="863" cy="1313" r="29.5" fill="#b5b5b5" stroke="#9a9a9a" stroke-width="3.5"/>
<circle cx="798.8" cy="1316.4" r="29.5" fill="#b5b5b5" stroke="#9a9a9a" stroke-width="3.5"/>
<circle cx="740.4" cy="1316.4" r="29.5" fill="#b5b5b5" stroke="#9a9a9a" stroke-width="3.5"/>
<circle cx="680" cy="1314.4" r="29.5" fill="#b5b5b5" stroke="#9a9a9a" stroke-width="3.5"/>
<circle cx="615.7" cy="1313.6" r="29.5" fill="#b5b5b5" stroke="#9a9a9a" stroke-width="3.5"/>
<circle cx="551.4" cy="1310.5" r="29.5" fill="#b5b5b5" stroke="#9a9a9a" stroke-width="3.5"/>
<circle cx="511.6" cy="1248" r="29.5" fill="#b5b5b5" stroke="#9a9a9a" stroke-width="3.5"/>
<circle cx="482.4" cy="1184" r="29.5" fill="#b5b5b5" stroke="#9a9a9a" stroke-width="3.5"/>
<circle cx="454" cy="1119.6" r="29.5" fill="#b5b5b5" stroke="#9a9a9a" stroke-width="3.5"/>
<circle cx="427.8" cy="1069" r="29.5" fill="#b5b5b5" stroke="#9a9a9a" stroke-width="3.5"/>
<circle cx="406.4" cy="1013.6" r="29.5" fill="#b5b5b5" stroke="#9a9a9a" stroke-width="3.5"/>
<circle cx="385.7" cy="959.8" r="29.5" fill="#b5b5b5" stroke="#9a9a9a" stroke-width="3.5"/>
<circle cx="360.4" cy="903" r="29.5" fill="#b5b5b5" stroke="#9a9a9a" stroke-width="3.5"/>
<circle cx="350.7" cy="838" r="29.5" fill="#b5b5b5" stroke="#9a9a9a" stroke-width="3.5"/>
<circle cx="375.5" cy="779.5" r="29.5" fill="#b5b5b5" stroke="#9a9a9a" stroke-width="3.5"/>
<circle cx="400.5" cy="719" r="29.5" fill="#b5b5b5" stroke="#9a9a9a" stroke-width="3.5"/>
<circle cx="425.5" cy="660" r="29.5" fill="#b5b5b5" stroke="#9a9a9a" stroke-width="3.5"/>
<circle cx="450" cy="604" r="29.5" fill="#b5b5b5" stroke="#9a9a9a" stroke-width="3.5"/>
<circle cx="474.5" cy="546" r="29.5" fill="#b5b5b5" stroke="#9a9a9a" stroke-width="3.5"/>
<circle cx="505" cy="486" r="29.5" fill="#b5b5b5" stroke="#9a9a9a" stroke-width="3.5"/>
<polygon points="660.5,482 707,482 752,474.5 802,478 846,476 890,473 941,473 956.7,521 970.7,568 980,616 994,661.6 1000,710 1011,761 1020.6,809.6 1036,863 1050,912 1061,961.8 1075,1013 1085.4,1066 1099,1120.8 1109.4,1175.4 1062.6,1197.8 1008,1201 959.8,1203.4 909,1202 857.9,1206 810.8,1207.5 762.8,1206 716,1208 664.3,1206.5 612.8,1205 560.8,1202 567,1142.6 575,1082 584,1029 590,974 599.7,921 607.5,868 617,809.6 623,756.6 632.5,697.4 637,644 646.5,587 651,534" fill="none" stroke="#333" stroke-width="3.5" stroke-linejoin="round"/>
<circle cx="660.5" cy="482" r="21.5" fill="#000"/>
<circle cx="707" cy="482" r="21.5" fill="#000"/>
<circle cx="752" cy="474.5" r="21.5" fill="#000"/>
<circle cx="802" cy="478" r="21.5" fill="#000"/>
<circle cx="846" cy="476" r="21.5" fill="#000"/>
<circle cx="890" cy="473" r="21.5" fill="#000"/>
<circle cx="941" cy="473" r="21.5" fill="#000"/>
<circle cx="956.7" cy="521" r="21.5" fill="#000"/>
<circle cx="970.7" cy="568" r="21.5" fill="#000"/>
<circle cx="980" cy="616" r="21.5" fill="#000"/>
<circle cx="994" cy="661.6" r="21.5" fill="#000"/>
<circle cx="1000" cy="710" r="21.5" fill="#000"/>
<circle cx="1011" cy="761" r="21.5" fill="#000"/>
<circle cx="1020.6" cy="809.6" r="21.5" fill="#000"/>
<circle cx="1036" cy="863" r="21.5" fill="#000"/>
<circle cx="1050" cy="912" r="21.5" fill="#000"/>
<circle cx="1061" cy="961.8" r="21.5" fill="#000"/>
<circle cx="1075" cy="1013" r="21.5" fill="#000"/>
<circle cx="1085.4" cy="1066" r="21.5" fill="#000"/>
<circle cx="1099" cy="1120.8" r="21.5" fill="#000"/>
<circle cx="1109.4" cy="1175.4" r="21.5" fill="#000"/>
<circle cx="1062.6" cy="1197.8" r="21.5" fill="#000"/>
<circle cx="1008" cy="1201" r="21.5" fill="#000"/>
<circle cx="959.8" cy="1203.4" r="21.5" fill="#000"/>
<circle cx="909" cy="1202" r="21.5" fill="#000"/>
<circle cx="857.9" cy="1206" r="21.5" fill="#000"/>
<circle cx="810.8" cy="1207.5" r="21.5" fill="#000"/>
<circle cx="762.8" cy="1206" r="21.5" fill="#000"/>
<circle cx="716" cy="1208" r="21.5" fill="#000"/>
<circle cx="664.3" cy="1206.5" r="21.5" fill="#000"/>
<circle cx="612.8" cy="1205" r="21.5" fill="#000"/>
<circle cx="560.8" cy="1202" r="21.5" fill="#000"/>
<circle cx="567" cy="1142.6" r="21.5" fill="#000"/>
<circle cx="575" cy="1082" r="21.5" fill="#000"/>
<circle cx="584" cy="1029" r="21.5" fill="#000"/>
<circle cx="590" cy="974" r="21.5" fill="#000"/>
<circle cx="599.7" cy="921" r="21.5" fill="#000"/>
<circle cx="607.5" cy="868" r="21.5" fill="#000"/>
<circle cx="617" cy="809.6" r="21.5" fill="#000"/>
<circle cx="623" cy="756.6" r="21.5" fill="#000"/>
<circle cx="632.5" cy="697.4" r="21.5" fill="#000"/>
<circle cx="637" cy="644" r="21.5" fill="#000"/>
<circle cx="646.5" cy="587" r="21.5" fill="#000"/>
<circle cx="651" cy="534" r="21.5" fill="#000"/>
<path d="M890.2,655 L890.2,624 A31 31 0 1 0 921.2,655 Z" fill="#878787" stroke="#6c6c6c" stroke-width="5" stroke-linejoin="round"/>
<path d="M740,680 L767.5,738.5 C767,752 757,760 745,759.5 C728,759 716,742 714.5,720 C713.5,700 724,686 740,680 Z" fill="#000" stroke="#000" stroke-width="2" stroke-linejoin="round"/>
<polyline points="687,760 745,814 700,862 751,909 704,956 754,1001 703,1060" fill="none" stroke="#222" stroke-width="9" stroke-linejoin="miter"/>
<polyline points="824,755 879,808 834,856 883,901 838,949 890,996 835,1052" fill="none" stroke="#222" stroke-width="9" stroke-linejoin="miter"/>
<line x1="974.2" y1="882.5" x2="986.2" y2="882.5" stroke="#d6d6d6" stroke-width="3.2" stroke-linecap="round"/><line x1="965.8" y1="902.8" x2="974.3" y2="911.3" stroke="#d6d6d6" stroke-width="3.2" stroke-linecap="round"/><line x1="945.5" y1="911.2" x2="945.5" y2="923.2" stroke="#d6d6d6" stroke-width="3.2" stroke-linecap="round"/><line x1="925.2" y1="902.8" x2="916.7" y2="911.3" stroke="#d6d6d6" stroke-width="3.2" stroke-linecap="round"/><line x1="916.8" y1="882.5" x2="904.8" y2="882.5" stroke="#d6d6d6" stroke-width="3.2" stroke-linecap="round"/><line x1="925.2" y1="862.2" x2="916.7" y2="853.7" stroke="#d6d6d6" stroke-width="3.2" stroke-linecap="round"/><line x1="945.5" y1="853.8" x2="945.5" y2="841.8" stroke="#d6d6d6" stroke-width="3.2" stroke-linecap="round"/><line x1="965.8" y1="862.2" x2="974.3" y2="853.7" stroke="#d6d6d6" stroke-width="3.2" stroke-linecap="round"/><circle cx="945.5" cy="882.5" r="18.5" fill="#929292"/>
<g stroke="#383838" stroke-width="4.6" opacity="0.82" stroke-linecap="butt">
<line x1="1130" y1="46" x2="1728" y2="46"/>
<line x1="1160" y1="254" x2="1757" y2="252.7"/>
<line x1="1164.6" y1="431" x2="1760" y2="432"/>
<line x1="975" y1="544.8" x2="1746" y2="541.8"/>
<line x1="942" y1="656.8" x2="1745" y2="654.6"/>
<line x1="775" y1="734.5" x2="1759" y2="745"/>
<line x1="988" y1="885.5" x2="1790" y2="883"/>
<line x1="921" y1="1022.6" x2="1752.5" y2="1018"/>
<line x1="1217.6" y1="1170" x2="1751" y2="1180"/>
<line x1="1028.6" y1="1214" x2="1746" y2="1355"/>
<line x1="1228" y1="1353" x2="1730.6" y2="1515.4"/>
</g>
<g transform="translate(1761,0)" fill="none" stroke-linecap="round" stroke-linejoin="round"><path d="M0,110 Q0,124 8,129 Q22,136 24,149 L26,165" stroke="#ababab" stroke-width="7.5"/><path d="M7,52 L24,37 Q32,32 37,35 Q41,38 41,46 L41,80 Q40,92 32,91 Q26,90 7,76 Z" fill="#fff" stroke="#8e8e8e" stroke-width="7.2"/><rect x="-9.5" y="33" width="19" height="78" rx="9.5" fill="#b3b3b3" stroke="#a9a9a9" stroke-width="2"/><circle cx="0" cy="38" r="4.5" fill="#8a8a8a"/><circle cx="0" cy="106" r="4.5" fill="#8a8a8a"/></g>
<g transform="translate(1886,0) scale(-1,1)" fill="none" stroke-linecap="round" stroke-linejoin="round"><path d="M0,110 Q0,124 8,129 Q22,136 24,149 L26,165" stroke="#ababab" stroke-width="7.5"/><path d="M7,52 L24,37 Q32,32 37,35 Q41,38 41,46 L41,80 Q40,92 32,91 Q26,90 7,76 Z" fill="#fff" stroke="#8e8e8e" stroke-width="7.2"/><rect x="-9.5" y="33" width="19" height="78" rx="9.5" fill="#b3b3b3" stroke="#a9a9a9" stroke-width="2"/><circle cx="0" cy="38" r="4.5" fill="#8a8a8a"/><circle cx="0" cy="106" r="4.5" fill="#8a8a8a"/></g>
<g transform="translate(1796,220)"><path d="M-22,0 L-22,112 A22 6 0 0 0 22,112 L22,0 A22 6 0 0 0 -22,0 Z" fill="#d2d2d2" stroke="#3c3c3c" stroke-width="5.5" stroke-linejoin="round"/><ellipse cx="0" cy="0" rx="22" ry="6" fill="#bdbdbd" stroke="#3c3c3c" stroke-width="5"/></g>
<circle cx="1800.6" cy="424" r="29" fill="#b5b5b5" stroke="#a2a2a2" stroke-width="3"/>
<circle cx="1805" cy="533" r="28.5" fill="#000"/>
<path d="M1808.5,654 L1808.5,620.5 A33.5 33.5 0 1 0 1842.0,654 Z" fill="#878787" stroke="#6c6c6c" stroke-width="5" stroke-linejoin="round"/>
<path d="M1822.0,733.2 A31.3 31.3 0 1 0 1849.1,782.7 Z" fill="#000" stroke="#000" stroke-width="2" stroke-linejoin="round"/>
<line x1="1854.7" y1="883.0" x2="1864.7" y2="883.0" stroke="#d6d6d6" stroke-width="3" stroke-linecap="round"/><line x1="1846.8" y1="902.1" x2="1853.9" y2="909.2" stroke="#d6d6d6" stroke-width="3" stroke-linecap="round"/><line x1="1827.7" y1="910.0" x2="1827.7" y2="920.0" stroke="#d6d6d6" stroke-width="3" stroke-linecap="round"/><line x1="1808.6" y1="902.1" x2="1801.5" y2="909.2" stroke="#d6d6d6" stroke-width="3" stroke-linecap="round"/><line x1="1800.7" y1="883.0" x2="1790.7" y2="883.0" stroke="#d6d6d6" stroke-width="3" stroke-linecap="round"/><line x1="1808.6" y1="863.9" x2="1801.5" y2="856.8" stroke="#d6d6d6" stroke-width="3" stroke-linecap="round"/><line x1="1827.7" y1="856.0" x2="1827.7" y2="846.0" stroke="#d6d6d6" stroke-width="3" stroke-linecap="round"/><line x1="1846.8" y1="863.9" x2="1853.9" y2="856.8" stroke="#d6d6d6" stroke-width="3" stroke-linecap="round"/><circle cx="1827.7" cy="883" r="16.5" fill="#929292"/>
<polyline points="1794,968.7 1816.3,992.6 1798.2,1012.3 1816.3,1032 1797.8,1051.8 1816.3,1072.6 1794,1096.5" fill="none" stroke="#868686" stroke-width="7.8" stroke-linejoin="round" stroke-linecap="round"/>
<polyline points="1853.5,968.7 1875.8,992.6 1857.7,1012.3 1875.8,1032 1857.3,1051.8 1875.8,1072.6 1853.5,1096.5" fill="none" stroke="#868686" stroke-width="7.8" stroke-linejoin="round" stroke-linecap="round"/>
<polygon points="1761,1210.5 1787.5,1153.6 1865.3,1153.6 1891.5,1210.5 1865.3,1267.3 1787.5,1267.3" fill="#fff" stroke="#000" stroke-width="10" stroke-linejoin="miter"/>
<polygon points="1797,1300 1846.5,1300 1868.4,1432.4 1775.2,1432.4" fill="#fff" stroke="#8f8f8f" stroke-width="7" stroke-linejoin="miter"/>
<g stroke="#dedede" stroke-width="7" stroke-linecap="round"><line x1="1944.9" y1="1592.5" x2="1953.4" y2="1592.9"/><line x1="1942.5" y1="1611.1" x2="1950.8" y2="1612.9"/><line x1="1937.1" y1="1629.0" x2="1945.0" y2="1632.1"/><line x1="1929.0" y1="1645.7" x2="1936.3" y2="1650.2"/><line x1="1918.3" y1="1660.9" x2="1924.8" y2="1666.5"/><line x1="1905.4" y1="1674.0" x2="1910.8" y2="1680.6"/><line x1="1890.5" y1="1684.8" x2="1894.8" y2="1692.1"/><line x1="1874.1" y1="1692.9" x2="1877.1" y2="1700.8"/><line x1="1856.6" y1="1698.1" x2="1858.3" y2="1706.4"/><line x1="1838.6" y1="1700.2" x2="1838.9" y2="1708.7"/><line x1="1820.4" y1="1699.3" x2="1819.3" y2="1707.7"/><line x1="1802.7" y1="1695.3" x2="1800.2" y2="1703.4"/><line x1="1785.8" y1="1688.3" x2="1782.0" y2="1695.9"/><line x1="1770.3" y1="1678.6" x2="1765.3" y2="1685.5"/><line x1="1756.5" y1="1666.4" x2="1750.5" y2="1672.3"/><line x1="1744.9" y1="1651.9" x2="1738.0" y2="1656.8"/><line x1="1735.8" y1="1635.8" x2="1728.1" y2="1639.4"/><line x1="1729.3" y1="1618.2" x2="1721.1" y2="1620.6"/><line x1="1725.7" y1="1599.9" x2="1717.3" y2="1600.8"/><line x1="1725.1" y1="1581.1" x2="1716.6" y2="1580.7"/><line x1="1727.5" y1="1562.5" x2="1719.2" y2="1560.7"/><line x1="1732.9" y1="1544.6" x2="1725.0" y2="1541.5"/><line x1="1741.0" y1="1527.9" x2="1733.7" y2="1523.4"/><line x1="1751.7" y1="1512.7" x2="1745.2" y2="1507.1"/><line x1="1764.6" y1="1499.6" x2="1759.2" y2="1493.0"/><line x1="1779.5" y1="1488.8" x2="1775.2" y2="1481.5"/><line x1="1795.9" y1="1480.7" x2="1792.9" y2="1472.8"/><line x1="1813.4" y1="1475.5" x2="1811.7" y2="1467.2"/><line x1="1831.4" y1="1473.4" x2="1831.1" y2="1464.9"/><line x1="1849.6" y1="1474.3" x2="1850.7" y2="1465.9"/><line x1="1867.3" y1="1478.3" x2="1869.8" y2="1470.2"/><line x1="1884.2" y1="1485.3" x2="1888.0" y2="1477.7"/><line x1="1899.7" y1="1495.0" x2="1904.7" y2="1488.1"/><line x1="1913.5" y1="1507.2" x2="1919.5" y2="1501.3"/><line x1="1925.1" y1="1521.7" x2="1932.0" y2="1516.8"/><line x1="1934.2" y1="1537.8" x2="1941.9" y2="1534.2"/><line x1="1940.7" y1="1555.4" x2="1948.9" y2="1553.0"/><line x1="1944.3" y1="1573.7" x2="1952.7" y2="1572.8"/></g>
<ellipse cx="1835.0" cy="1586.8" rx="101.0" ry="104.5" fill="#fff" stroke="#0d0d0d" stroke-width="22.5"/>
<ellipse cx="1835.0" cy="1586.8" rx="101.0" ry="104.5" fill="none" stroke="#242424" stroke-width="3" stroke-dasharray="5 7"/>
<g font-family="Liberation Sans, sans-serif" font-weight="bold" font-size="57" fill="#161616">
<text x="1977.5" y="133" textLength="137.5" lengthAdjust="spacingAndGlyphs">gp46</text>
<text x="1977.5" y="277.7" textLength="139.5" lengthAdjust="spacingAndGlyphs">gp21</text>
<text x="1984.6" y="431" textLength="105.0" lengthAdjust="spacingAndGlyphs">p19</text>
<text x="1979" y="551.5" textLength="107.5" lengthAdjust="spacingAndGlyphs">p24</text>
<text x="1979" y="672" textLength="778.5" lengthAdjust="spacingAndGlyphs">p55 – Reverse Transcriptase</text>
<text x="1984" y="784.5" textLength="400.5" lengthAdjust="spacingAndGlyphs">p10 - Protease</text>
<text x="1984" y="900" textLength="413.5" lengthAdjust="spacingAndGlyphs">p32 - Integrase</text>
<text x="1981" y="1225.8" textLength="188.5" lengthAdjust="spacingAndGlyphs">Matrix</text>
<text x="1989.8" y="1374" textLength="185.5" lengthAdjust="spacingAndGlyphs">Capsid</text>
<text x="2004" y="1594" textLength="401.5" lengthAdjust="spacingAndGlyphs">Viral envelope</text>
<text x="1988" y="1039" textLength="177" lengthAdjust="spacingAndGlyphs">ssRNA</text>
<text x="2166" y="1014" font-size="30" textLength="17" lengthAdjust="spacingAndGlyphs">+</text>
</g>
</g>
<g filter="url(#crisp)"><text x="2521" y="1747" font-family="Liberation Sans, sans-serif" font-size="15" fill="#000" textLength="215" lengthAdjust="spacing">Braz J Infect Dis. 2021;25:</text></g>
</svg>
</body></html>
